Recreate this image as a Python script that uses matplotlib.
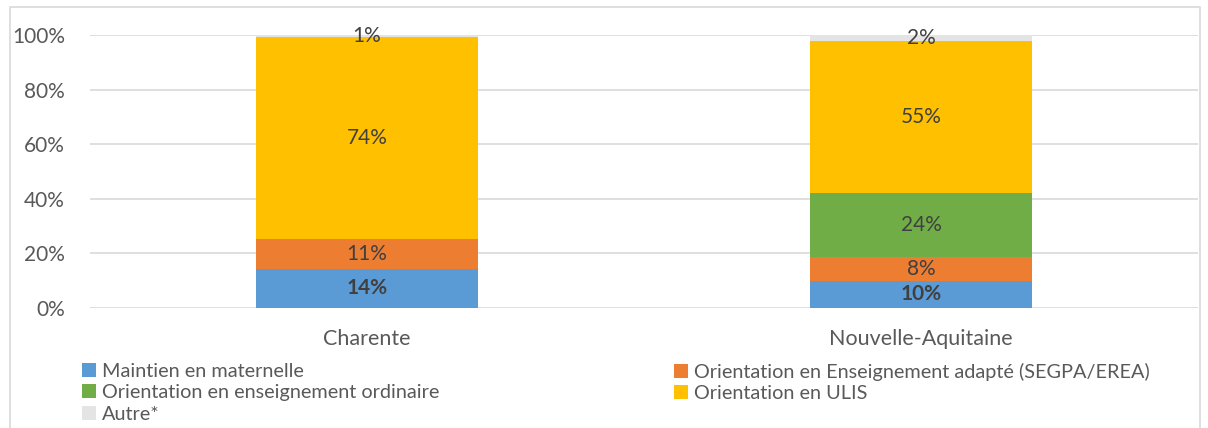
import matplotlib.pyplot as plt
from matplotlib.patches import Rectangle

plt.rcParams['font.family'] = ['Lato', 'DejaVu Sans']

# Données
categories = ['Charente', 'Nouvelle-Aquitaine']
series = ['Maintien en maternelle',
          'Orientation en Enseignement adapté (SEGPA/EREA)',
          'Orientation en enseignement ordinaire',
          'Orientation en ULIS',
          'Autre*']
maintien = [14.3, 9.9]
segpa = [11.1, 8.8]
ordinaire = [0.0, 23.5]
ulis = [74.0, 55.6]
autre = [0.6, 2.2]
labels_txt = [['14%', '10%'], ['11%', '8%'], ['', '24%'], ['74%', '55%'], ['1%', '2%']]

colors = ['#5B9BD5', '#ED7D31', '#70AD47', '#FFC000', '#E4E4E4']
values = [maintien, segpa, ordinaire, ulis, autre]

fig = plt.figure(figsize=(12.08, 4.28), dpi=100)
ax = fig.add_axes([90 / 1208, 1 - 308 / 428, 1108 / 1208, 273 / 428])

x = range(len(categories))
bottom = [0, 0]
bars = []
for i, (name, vals) in enumerate(zip(series, values)):
    b = ax.bar(x, vals, 0.4, bottom=bottom, color=colors[i], label=name, zorder=3)
    bars.append(b)
    ax.bar_label(b, labels=labels_txt[i], label_type='center', fontsize=15,
                 color='#404040', fontweight='bold' if i == 0 else 'normal', zorder=4)
    bottom = [bo + v for bo, v in zip(bottom, vals)]

ax.set_xlim(-0.5, 1.5)
ax.set_ylim(0, 100)
ax.set_yticks([0, 20, 40, 60, 80, 100])
ax.set_yticklabels(['0%', '20%', '40%', '60%', '80%', '100%'])
ax.set_xticks(list(x))
ax.set_xticklabels(categories)
ax.tick_params(axis='y', length=0, labelsize=15, labelcolor='#595959', pad=18)
ax.tick_params(axis='x', length=0, labelsize=15.5, labelcolor='#595959', pad=15)
ax.grid(axis='y', color='#D9D9D9', linewidth=1.2, zorder=0)
for s in ax.spines.values():
    s.set_visible(False)

# Légende sur deux colonnes
h = [b for b in bars]
leg_kw = dict(loc='upper left', frameon=False, fontsize=14.3, labelcolor='#595959',
              handlelength=0.7, handleheight=0.7, handletextpad=0.3,
              labelspacing=0.22, borderpad=0)
fig.legend([h[0], h[2], h[4]], [series[0], series[2], series[4]],
           bbox_to_anchor=(72 / 1208, 1 - 353 / 428), **leg_kw)
fig.legend([h[1], h[3]], [series[1], series[3]],
           bbox_to_anchor=(664 / 1208, 1 - 353 / 428), **leg_kw)

# Cadre du graphique
fig.patches.append(Rectangle((10 / 1208, -0.05), 1190 / 1208, 1.05 - 7 / 428,
                             transform=fig.transFigure, fill=False,
                             edgecolor='#D9D9D9', linewidth=1.2))

fig.savefig('out.png', dpi=100)
